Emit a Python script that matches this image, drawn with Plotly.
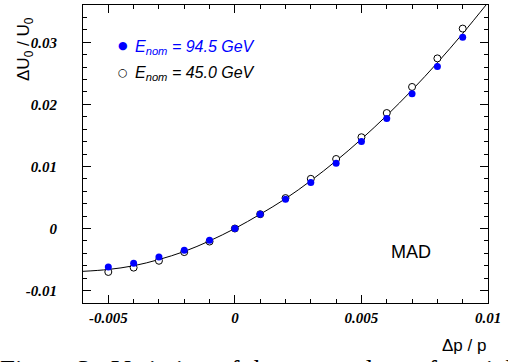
import plotly.graph_objects as go

# Data
dp = [-0.005, -0.004, -0.003, -0.002, -0.001, 0.0, 0.001, 0.002, 0.003, 0.004, 0.005, 0.006, 0.007, 0.008, 0.009]
u_945 = [-0.0062, -0.0056, -0.0046, -0.0035, -0.0019, 0.0, 0.0023, 0.0047, 0.0074, 0.0105, 0.0140, 0.0177, 0.0217, 0.0261, 0.0308]
u_450 = [-0.0070, -0.0063, -0.0052, -0.0038, -0.0021, 0.0, 0.0023, 0.0049, 0.0080, 0.0112, 0.0147, 0.0186, 0.0228, 0.0274, 0.0322]
fit_x = [-0.006, -0.005, -0.004, -0.003, -0.002, -0.001, 0.0, 0.001, 0.002, 0.003, 0.004, 0.005, 0.006, 0.007, 0.008, 0.009, 0.010]
fit_y = [-0.0069, -0.0066, -0.0060, -0.0050, -0.0037, -0.0020, 0.0, 0.0023, 0.0048, 0.0077, 0.0109, 0.0144, 0.0182, 0.0223, 0.0267, 0.0314, 0.0364]
x_ticks = [-0.005, 0, 0.005, 0.01]
x_ticklabels = ["-0.005", "0", "0.005", "0.01"]
y_ticks = [-0.01, 0, 0.01, 0.02, 0.03]
y_ticklabels = ["-0.01", "0", "0.01", "0.02", "0.03"]

W, H = 508, 362
L, R, T, B = 83, 488, 5, 303

def px(x):
    return (x - L) / (R - L)

def py(y):
    return (B - y) / (B - T)

fig = go.Figure()
fig.add_trace(go.Scatter(x=fit_x, y=fit_y, mode="lines", line=dict(color="black", width=1, shape="spline"),
                         showlegend=False, hoverinfo="skip"))
fig.add_trace(go.Scatter(x=dp, y=u_450, mode="markers",
                         marker=dict(symbol="circle", size=7, color="white", line=dict(color="black", width=1)),
                         showlegend=False))
fig.add_trace(go.Scatter(x=dp, y=u_945, mode="markers",
                         marker=dict(symbol="circle", size=7, color="#0000ff", line=dict(width=0)),
                         showlegend=False))

serif = "Liberation Serif"
tickfont = dict(family=serif, size=15, color="black")

def bi(labels):
    return ["<b><i>%s</i></b>" % s for s in labels]

fig.update_xaxes(range=[-0.006, 0.01], tickvals=x_ticks, ticktext=bi(x_ticklabels), automargin=False,
                 ticks="inside", ticklen=8, tickwidth=1, tickcolor="black",
                 showline=True, linecolor="black", linewidth=1, mirror="allticks",
                 showgrid=False, zeroline=False, tickfont=tickfont, ticklabelstandoff=1,
                 minor=dict(dtick=0.001, tick0=0, ticks="inside", ticklen=4, tickcolor="black", showgrid=False))
fig.update_yaxes(range=[-0.012, 0.036], tickvals=y_ticks, ticktext=bi(y_ticklabels), automargin=False,
                 ticks="inside", ticklen=8, tickwidth=1, tickcolor="black",
                 showline=True, linecolor="black", linewidth=1, mirror="allticks",
                 showgrid=False, zeroline=False, tickfont=tickfont, ticklabelstandoff=22,
                 minor=dict(dtick=0.002, tick0=0, ticks="inside", ticklen=4, tickcolor="black", showgrid=False))

sans = "Liberation Sans"
ann = []
# legend
ann.append(dict(x=px(123), y=py(46), xref="paper", yref="paper", text="●", showarrow=False,
                font=dict(family="DejaVu Sans", size=11, color="#0000ff"), xanchor="center", yanchor="middle"))
ann.append(dict(x=px(123), y=py(72.5), xref="paper", yref="paper", text="○", showarrow=False,
                font=dict(family="DejaVu Sans", size=11, color="black"), xanchor="center", yanchor="middle"))
ann.append(dict(x=px(133), y=py(47), xref="paper", yref="paper",
                text="<i>E<sub>nom</sub> = 94.5 GeV</i>", showarrow=False,
                font=dict(family=sans, size=16, color="#0000ff"), xanchor="left", yanchor="middle"))
ann.append(dict(x=px(133), y=py(73.5), xref="paper", yref="paper",
                text="<i>E<sub>nom</sub> = 45.0 GeV</i>", showarrow=False,
                font=dict(family=sans, size=16, color="black"), xanchor="left", yanchor="middle"))
# MAD
ann.append(dict(x=px(411), y=py(252), xref="paper", yref="paper", text="MAD", showarrow=False,
                font=dict(family=sans, size=18, color="black"), xanchor="center", yanchor="middle"))
# axis titles
ann.append(dict(x=px(488), y=py(345), xref="paper", yref="paper", text="Δp / p", showarrow=False,
                font=dict(family=sans, size=17, color="black"), xanchor="right", yanchor="middle"))
ann.append(dict(x=px(25), y=py(49), xref="paper", yref="paper", text="ΔU<sub>0</sub> / U<sub>0</sub>",
                showarrow=False, textangle=-90,
                font=dict(family=sans, size=17, color="black"), xanchor="center", yanchor="middle"))
# caption (partly cut off)
ann.append(dict(x=px(-2), y=py(353), xref="paper", yref="paper",
                text="Figure 3:  Variation of the energy loss of particles", showarrow=False,
                font=dict(family=serif, size=27, color="black"), xanchor="left", yanchor="top"))

fig.update_layout(width=W, height=H, margin=dict(l=L, r=W - R, t=T, b=H - B, autoexpand=False),
                  paper_bgcolor="white", plot_bgcolor="white", showlegend=False, annotations=ann)

fig.write_html("out.html", config={"displayModeBar": False},
               post_script="document.body.style.margin='0px';document.body.style.padding='0px';")
